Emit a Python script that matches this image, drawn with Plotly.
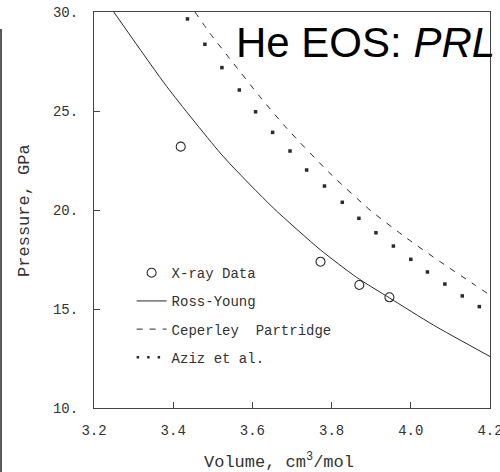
import plotly.graph_objects as go

# Helium equation of state: pressure (GPa) versus molar volume (cm^3/mol)
xray_volume = [3.419, 3.772, 3.870, 3.946]
xray_pressure = [23.2, 17.39, 16.21, 15.59]

ross_volume = [3.250, 3.384, 3.527, 3.653, 3.771, 3.863, 3.947, 4.057, 4.200]
ross_pressure = [30.0, 26.23, 22.69, 20.1, 18.0, 16.6, 15.55, 14.19, 12.6]

cep_volume = [3.455, 3.493, 3.552, 3.619, 3.687, 3.796, 3.897, 3.990, 4.074, 4.162, 4.200]
cep_pressure = [30.0, 28.92, 27.41, 25.72, 24.12, 21.85, 20.0, 18.57, 17.39, 16.21, 15.7]

aziz_volume = [3.436, 3.480, 3.523, 3.567, 3.608, 3.651, 3.695, 3.737, 3.782,
               3.827, 3.869, 3.912, 3.956, 4.000, 4.042, 4.086, 4.130, 4.173]
aziz_pressure = [29.65, 28.37, 27.19, 26.06, 24.96, 23.92, 22.98, 22.02, 21.21,
                 20.39, 19.58, 18.85, 18.18, 17.51, 16.87, 16.26, 15.66, 15.12]

x_ticks = [3.2, 3.4, 3.6, 3.8, 4.0, 4.2]
x_tick_text = ["3.2", "3.4", "3.6", "3.8", "4.0", "4.2"]
y_ticks = [10, 15, 20, 25, 30]
y_tick_text = ["10.", "15.", "20.", "25.", "30."]

INK = "#2a2a2a"
MONO = "Liberation Mono, Courier New, monospace"

fig = go.Figure()

fig.add_trace(go.Scatter(
    x=xray_volume, y=xray_pressure, mode="markers", name="X-ray Data",
    legendgroup="a",
    marker=dict(symbol="circle-open", size=9, color=INK, line=dict(width=1.1, color=INK)),
))
fig.add_trace(go.Scatter(
    x=ross_volume, y=ross_pressure, mode="lines", name="Ross-Young",
    legendgroup="b",
    line=dict(color=INK, width=1, shape="spline", smoothing=0.6),
))
fig.add_trace(go.Scatter(
    x=cep_volume, y=cep_pressure, mode="lines", name="Ceperley  Partridge",
    legendgroup="c",
    line=dict(color=INK, width=1, dash="6px,7px", shape="spline", smoothing=0.6),
))
fig.add_trace(go.Scatter(
    x=aziz_volume, y=aziz_pressure, mode="markers", name="Aziz et al.",
    legendgroup="d", showlegend=False,
    marker=dict(symbol="square", size=3.5, color=INK, line=dict(width=0)),
))
# legend key for the Aziz points, drawn as a dotted sample
fig.add_trace(go.Scatter(
    x=[None], y=[None], mode="lines", name="Aziz et al.",
    legendgroup="d",
    line=dict(color=INK, width=2.5, dash="2.5px,8px"),
))

axis_common = dict(
    showline=True, mirror=True, linecolor="#444", linewidth=1,
    ticks="inside", ticklen=6, tickcolor="#444", tickwidth=1,
    showgrid=False, zeroline=False, ticklabeloverflow="allow",
    automargin=False,
    tickfont=dict(family=MONO, size=14, color="#333"),
)

fig.update_layout(
    width=500, height=472, autosize=False,
    margin=dict(l=94, r=10, t=12, b=64),
    paper_bgcolor="white", plot_bgcolor="white",
    xaxis=dict(range=[3.2, 4.2], tickvals=x_ticks, ticktext=x_tick_text,
               ticklabelstandoff=9, **axis_common),
    yaxis=dict(range=[10, 30], tickvals=y_ticks, ticktext=y_tick_text,
               ticklabelstandoff=12, **axis_common),
    showlegend=True,
    legend=dict(
        x=0.095, y=0.381, xanchor="left", yanchor="top",
        bgcolor="rgba(0,0,0,0)", borderwidth=0,
        traceorder="grouped", tracegroupgap=7,
        font=dict(family=MONO, size=14, color="#333"),
        itemwidth=30,
    ),
    annotations=[
        dict(text="He EOS: <i>PRL</i>", x=0.6856, y=0.924, xref="paper", yref="paper",
             xanchor="center", yanchor="middle", showarrow=False,
             font=dict(family="Liberation Sans, Arial, sans-serif", size=42, color="black")),
        dict(text="Volume, cm<sup>3</sup>/mol", x=0.467, y=-0.134, xref="paper", yref="paper",
             xanchor="center", yanchor="middle", showarrow=False,
             font=dict(family=MONO, size=17, color="#333")),
        dict(text="Pressure, GPa", x=-0.177, y=0.5, xref="paper", yref="paper",
             xanchor="center", yanchor="middle", textangle=-90, showarrow=False,
             font=dict(family=MONO, size=17, color="#333")),
    ],
    shapes=[
        # page edge along the left side
        dict(type="line", xref="paper", yref="paper",
             x0=-0.2348, x1=-0.2348, y0=0.957, y1=-0.17,
             line=dict(color="#222", width=1.5)),
    ],
)

fig.write_html("out.html")
